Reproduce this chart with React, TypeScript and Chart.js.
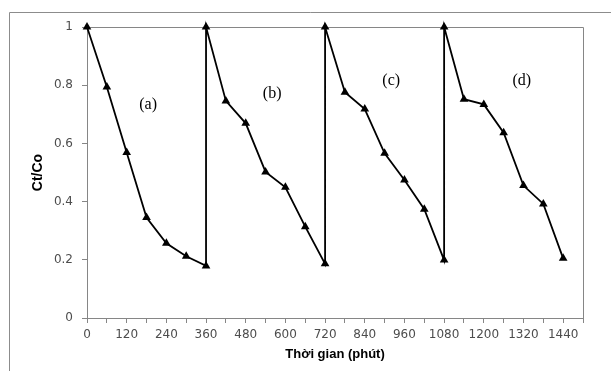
import React, { useEffect, useRef } from "react";
import { Chart, registerables } from "chart.js";

Chart.register(...registerables);

// Time (minutes) for each cycle
const timesA = [0, 60, 120, 180, 240, 300, 360];
const timesB = [360, 420, 480, 540, 600, 660, 720];
const timesC = [720, 780, 840, 900, 960, 1020, 1080];
const timesD = [1080, 1140, 1200, 1260, 1320, 1380, 1440];

// Ct/Co values for each cycle
const valuesA = [1, 0.794, 0.569, 0.345, 0.257, 0.212, 0.179];
const valuesB = [1, 0.746, 0.669, 0.502, 0.449, 0.314, 0.186];
const valuesC = [1, 0.776, 0.718, 0.566, 0.474, 0.374, 0.199];
const valuesD = [1, 0.752, 0.734, 0.637, 0.455, 0.392, 0.205];

// Cycle labels
const cycleLabels = ["(a)", "(b)", "(c)", "(d)"];
const cycleLabelX = [185, 560, 920, 1315];
const cycleLabelY = [0.733, 0.77, 0.814, 0.814];

// Axis settings
const xMin = 0;
const xMax = 1500;
const xStep = 60;
const xLabelStep = 120;
const yMin = 0;
const yMax = 1;
const yStep = 0.2;

const xTitle = "Thời gian (phút)";
const yTitle = "Ct/Co";

const AXIS_GRAY = "#868686";

export default function App() {
  const canvasRef = useRef<HTMLCanvasElement | null>(null);

  useEffect(() => {
    const canvas = canvasRef.current;
    if (!canvas) return;

    const times = [...timesA, ...timesB, ...timesC, ...timesD];
    const values = [...valuesA, ...valuesB, ...valuesC, ...valuesD];
    const points = times.map((t, i) => ({ x: t, y: values[i] }));

    const framePlugin = {
      id: "frames",
      beforeDraw(chart: any) {
        const ctx = chart.ctx;
        ctx.save();
        ctx.strokeStyle = "#8c8c8c";
        ctx.lineWidth = 1;
        ctx.beginPath();
        ctx.moveTo(9.5, chart.height);
        ctx.lineTo(9.5, 12.5);
        ctx.lineTo(chart.width, 12.5);
        ctx.stroke();
        ctx.restore();
      },
      beforeDatasetsDraw(chart: any) {
        const { ctx, chartArea } = chart;
        ctx.save();
        ctx.strokeStyle = AXIS_GRAY;
        ctx.lineWidth = 1;
        ctx.beginPath();
        const l = Math.round(chartArea.left) + 0.5;
        const t = Math.round(chartArea.top) + 0.5;
        const r = Math.round(chartArea.right) + 0.5;
        const b = Math.round(chartArea.bottom) + 0.5;
        ctx.moveTo(l, t);
        ctx.lineTo(r, t);
        ctx.lineTo(r, b);
        ctx.stroke();
        ctx.restore();
      },
      afterDatasetsDraw(chart: any) {
        const { ctx, scales } = chart;
        ctx.save();
        ctx.fillStyle = "#000";
        ctx.font = "16px 'Liberation Serif', 'Times New Roman', serif";
        ctx.textAlign = "center";
        ctx.textBaseline = "middle";
        cycleLabels.forEach((txt, i) => {
          const px = scales.x.getPixelForValue(cycleLabelX[i]);
          const py = scales.y.getPixelForValue(cycleLabelY[i]);
          ctx.fillText(txt, px, py);
        });
        ctx.restore();
      },
    };

    const chart = new Chart(canvas, {
      type: "scatter",
      data: {
        datasets: [
          {
            data: points,
            showLine: true,
            borderColor: "#000",
            borderWidth: 1.8,
            backgroundColor: "#000",
            pointStyle: "triangle",
            pointRadius: 5,
            pointBackgroundColor: "#000",
            pointBorderColor: "#000",
            pointBorderWidth: 0,
            tension: 0,
            clip: false,
          } as any,
        ],
      },
      options: {
        responsive: false,
        animation: false,
        devicePixelRatio: 1,
        layout: { padding: { top: 27, right: 28, left: 0, bottom: 0 } },
        plugins: {
          legend: { display: false },
          tooltip: { enabled: false },
        },
        scales: {
          x: {
            type: "linear",
            min: xMin,
            max: xMax,
            afterFit(scale: any) {
              scale.height = 53;
            },
            border: { display: true, color: AXIS_GRAY, width: 1 },
            grid: {
              display: true,
              drawOnChartArea: false,
              drawTicks: true,
              tickLength: 5,
              color: AXIS_GRAY,
            },
            ticks: {
              stepSize: xStep,
              autoSkip: false,
              maxRotation: 0,
              padding: 5,
              color: "#4d4d4d",
              font: { family: "'DejaVu Sans', sans-serif", size: 12 },
              callback: (v: any) => (Number(v) % xLabelStep === 0 ? String(v) : ""),
            },
            title: {
              display: true,
              text: xTitle,
              color: "#000",
              font: { family: "'Liberation Sans', Arial, sans-serif", size: 13, weight: "bold" },
              padding: { top: 0, bottom: 9 },
            },
          },
          y: {
            type: "linear",
            min: yMin,
            max: yMax,
            afterFit(scale: any) {
              scale.width = 87;
            },
            border: { display: true, color: AXIS_GRAY, width: 1 },
            grid: {
              display: true,
              drawOnChartArea: false,
              drawTicks: true,
              tickLength: 5,
              color: AXIS_GRAY,
            },
            ticks: {
              stepSize: yStep,
              padding: 9,
              color: "#4d4d4d",
              font: { family: "'DejaVu Sans', sans-serif", size: 12 },
              callback: (v: any) => String(Number(Number(v).toFixed(1))),
            },
            title: {
              display: true,
              text: yTitle,
              color: "#000",
              font: { family: "'Liberation Sans', Arial, sans-serif", size: 14, weight: "bold" },
              padding: { top: 30, bottom: 0 },
            },
          },
        },
      },
      plugins: [framePlugin],
    });

    return () => chart.destroy();
  }, []);

  return (
    <div style={{ position: "fixed", left: 0, top: 0, width: 611, height: 371, background: "#fff" }}>
      <canvas ref={canvasRef} width={611} height={371} style={{ display: "block" }} />
    </div>
  );
}
